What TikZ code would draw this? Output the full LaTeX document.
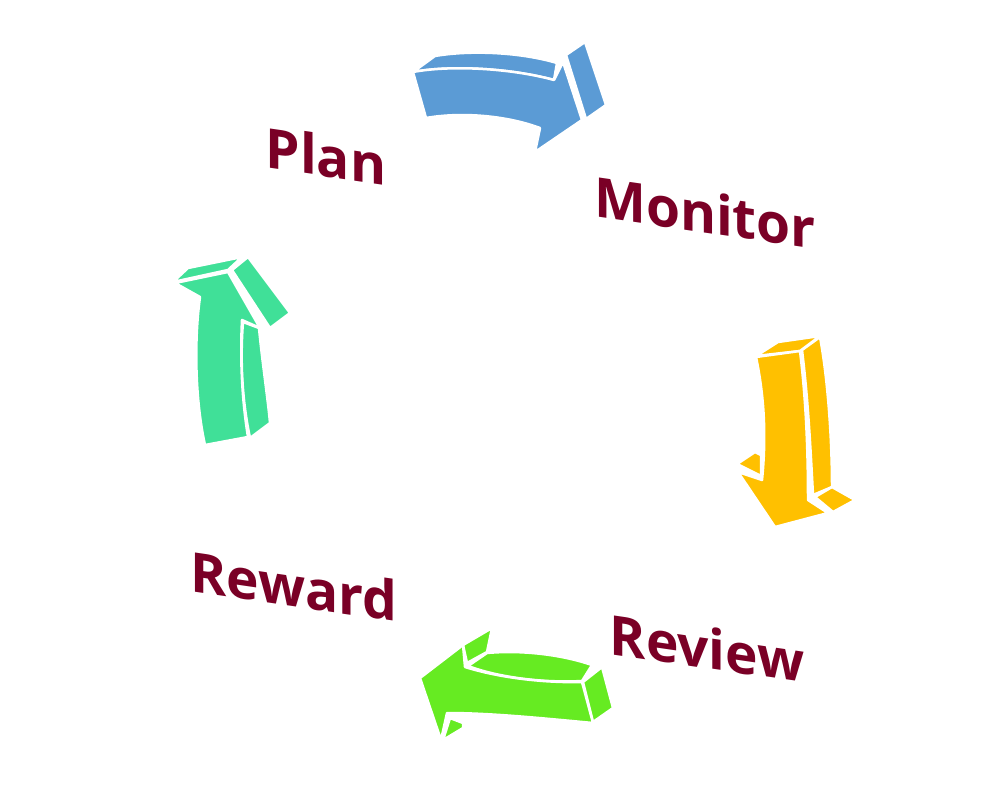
\documentclass[tikz,border=0pt]{standalone}
\usepackage{fontspec}
\setmainfont{Open Sans}
\definecolor{lbl}{RGB}{122,0,38}
\definecolor{ablue}{RGB}{91,155,213}
\definecolor{ayellow}{RGB}{255,192,0}
\definecolor{agreen}{RGB}{102,235,34}
\definecolor{ateal}{RGB}{64,224,152}
\begin{document}
\begin{tikzpicture}[x=1pt,y=-1pt,
  face/.style={draw=white,line width=2.5pt,line join=round},
  lab/.style={text=lbl,font=\fontsize{55}{60}\selectfont\bfseries,inner sep=0pt,transform shape},
  slantlab/.style={yslant=-0.145}]
\useasboundingbox (0,0) rectangle (1000,800);
% Blue arrow
\begin{scope}[face/.append style={fill=ablue}]
\draw[face] (413,72) -- (435,56) .. controls (470,50) and (520,52) .. (557,63) -- (554,80) .. controls (510,68) and (450,65) .. (413,72) -- cycle;
\draw[face] (413,72) .. controls (450,65) and (510,68) .. (554,80) -- (563,62) -- (582,120) -- (535,152) -- (540,128) .. controls (505,115) and (460,112) .. (426,118) -- cycle;
\draw[face] (566,55) -- (585,42) -- (606,105) -- (586,119) -- cycle;
\end{scope}
% Yellow arrow
\begin{scope}[face/.append style={fill=ayellow}]
\draw[face] (756,356) -- (778,342) -- (820,336) -- (800,351) -- cycle;
\draw[face] (802,350) -- (820,337) .. controls (828,380) and (832,440) .. (832,487) -- (813,495) .. controls (810,440) and (808,400) .. (802,350) -- cycle;
\draw[face] (737,464) -- (755,452) -- (761,455) -- (761,476) -- cycle;
\draw[face] (756,357) -- (800,351) .. controls (806,400) and (808,450) .. (808,500) -- (828,513) -- (775,527) -- (738,472) -- (762,480) .. controls (766,440) and (765,400) .. (756,357) -- cycle;
\draw[face] (815,497) -- (832,487) -- (855,500) -- (833,512) -- cycle;
\end{scope}
% Green arrow
\begin{scope}[face/.append style={fill=agreen}]
\draw[face] (468,666) -- (487,653) .. controls (520,650) and (560,654) .. (592,665) -- (582,681) .. controls (545,683) and (500,678) .. (468,666) -- cycle;
\draw[face] (463,645) -- (492,628) -- (487,652) -- (467,663) -- cycle;
\draw[face] (583,682) -- (602,667) -- (613,708) -- (593,722) -- cycle;
\draw[face] (450,718) -- (463,723) -- (463,728) -- (443,740) -- cycle;
\draw[face] (420,678) -- (463,645) -- (465,667) .. controls (500,678) and (545,683) .. (582,682) -- (593,723) .. controls (540,718) and (490,713) .. (447,713) -- (441,740) -- cycle;
\end{scope}
% Teal arrow
\begin{scope}[face/.append style={fill=ateal}]
\draw[face] (173,282) -- (188,268) -- (242,257) -- (228,270) -- cycle;
\draw[face] (232,270) -- (248,257) -- (290,313) -- (270,328) -- cycle;
\draw[face] (243,322) -- (259,328) .. controls (262,360) and (268,400) .. (270,423) -- (250,438) .. controls (242,400) and (240,360) .. (243,322) -- cycle;
\draw[face] (175,283) -- (228,272) -- (260,328) -- (242,320) .. controls (240,360) and (242,400) .. (248,437) -- (205,445) .. controls (195,400) and (194,340) .. (200,297) -- cycle;
\end{scope}
% Labels
\begin{scope}[shift={(326,156)},slantlab]\node[lab] (plan) at (0,0) {Plan};\end{scope}
\begin{scope}[shift={(705,212)},slantlab]\node[lab] (monitor) at (0,0) {Monitor};\end{scope}
\begin{scope}[shift={(707,648)},slantlab]\node[lab] (review) at (0,0) {Review};\end{scope}
\begin{scope}[shift={(294,586)},slantlab]\node[lab] (reward) at (0,0) {Reward};\end{scope}
\end{tikzpicture}
\end{document}
